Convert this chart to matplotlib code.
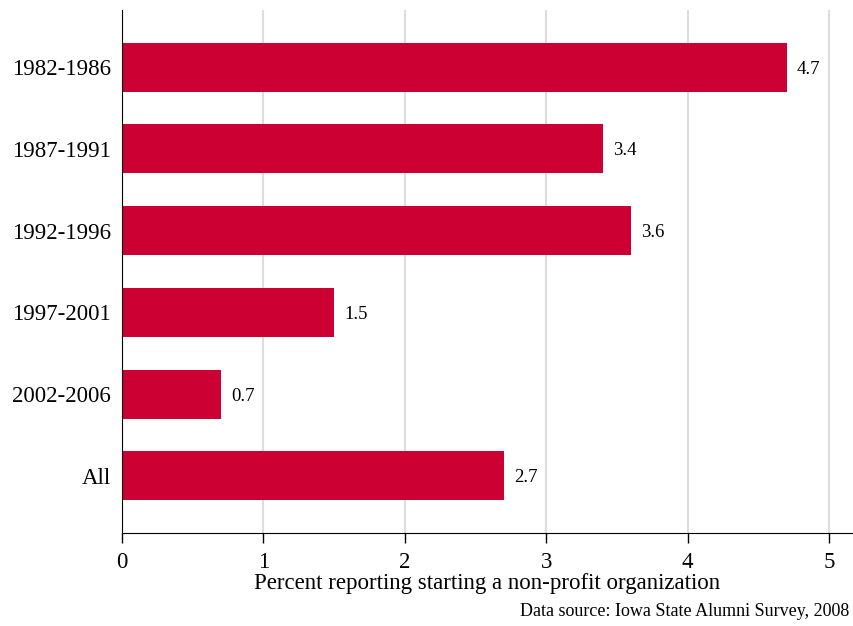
import matplotlib.pyplot as plt

cohorts = ['1982-1986', '1987-1991', '1992-1996', '1997-2001', '2002-2006', 'All']
percent = [4.7, 3.4, 3.6, 1.5, 0.7, 2.7]

plt.rcParams['font.family'] = ['Liberation Serif', 'DejaVu Serif']

fig = plt.figure(figsize=(8.54, 6.26), dpi=100)
ax = fig.add_axes([122 / 854, 1 - 533 / 626, 730 / 854, 523 / 626])

pos = list(range(len(cohorts)))
ax.barh(pos, percent, height=0.6, color='#CC0033', zorder=2)
for y, v in zip(pos, percent):
    ax.text(v + 0.07, y, f'{v}', va='center_baseline', ha='left', fontsize=13.5)

ax.set_ylim(len(cohorts) - 0.3, -0.7)
ax.set_xlim(0, 5.163)
ax.set_yticks(pos)
ax.set_yticklabels(cohorts, fontsize=16.5, va='center_baseline')
ax.set_xticks(range(6))
ax.tick_params(axis='x', labelsize=16.5, length=7, width=1, pad=7)
ax.tick_params(axis='y', length=0, pad=8)
ax.xaxis.grid(True, color='#dddddd', linewidth=1.5, zorder=0)
ax.set_axisbelow(True)
for s in ['top', 'right']:
    ax.spines[s].set_visible(False)
ax.set_xlabel('Percent reporting starting a non-profit organization', fontsize=16.5, labelpad=0)
fig.text(849 / 854, 1 - 611 / 626, 'Data source: Iowa State Alumni Survey, 2008',
         ha='right', va='center', fontsize=13)

fig.savefig('out.png', dpi=100)
